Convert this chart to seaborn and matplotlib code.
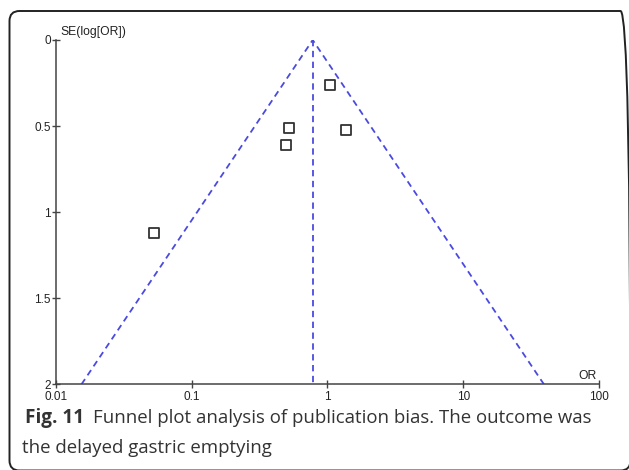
"""Funnel plot: publication bias, delayed gastric emptying."""
import numpy as np
import matplotlib
matplotlib.use("Agg")
import matplotlib.pyplot as plt
from matplotlib.patches import FancyBboxPatch
from matplotlib.transforms import IdentityTransform
import pandas as pd
import seaborn as sns

# study estimates
odds_ratio = [1.05, 0.52, 0.50, 1.38, 0.053]
se_log_or = [0.26, 0.51, 0.61, 0.52, 1.12]
pooled_or = 0.78
se_max = 2.0

x_ticks = [0.01, 0.1, 1, 10, 100]
x_tick_labels = ["0.01", "0.1", "1", "10", "100"]
y_ticks = [0, 0.5, 1, 1.5, 2]
y_tick_labels = ["0", "0.5", "1", "1.5", "2"]

df = pd.DataFrame({"OR": odds_ratio, "SE": se_log_or})

sns.set_theme(style="white")
plt.rcParams["font.family"] = ["Liberation Sans", "DejaVu Sans"]

fig = plt.figure(figsize=(6.29, 4.70), dpi=100)
ax = fig.add_axes([0.0886, 0.1823, 0.8637, 0.7326])

# funnel (95% pseudo confidence limits) and pooled estimate
lo = pooled_or * np.exp(-1.96 * se_max)
hi = pooled_or * np.exp(1.96 * se_max)
blue = "#4a4ae0"
ax.plot([lo, pooled_or, hi], [se_max, 0, se_max], color=blue, lw=1.3,
        ls=(0, (3.5, 2.5)))
ax.plot([pooled_or, pooled_or], [0, se_max], color=blue, lw=1.3,
        ls=(0, (3.5, 2.5)))

sns.scatterplot(data=df, x="OR", y="SE", marker="s", s=46,
                facecolor="white", edgecolor="#333333", linewidth=1.3,
                ax=ax, zorder=3)

ax.set_xscale("log")
ax.set_xlim(0.01, 100)
ax.set_ylim(2, 0)
ax.set_xticks(x_ticks)
ax.set_xticklabels(x_tick_labels)
ax.minorticks_off()
ax.set_yticks(y_ticks)
ax.set_yticklabels(y_tick_labels)
ax.set_xlabel("")
ax.set_ylabel("")

for side in ["top", "right"]:
    ax.spines[side].set_visible(False)
for side in ["left", "bottom"]:
    ax.spines[side].set_color("#444444")
    ax.spines[side].set_linewidth(1.1)
ax.tick_params(bottom=True, left=True, direction="inout", length=6,
               width=1.0, color="#444444", labelsize=8.5,
               labelcolor="#222222", pad=0)
ax.tick_params(axis="x", pad=1.5)
ax.tick_params(axis="y", pad=0.5)
ax.patch.set_alpha(0)

ax.text(0.008, 1.005, "SE(log[OR])", transform=ax.transAxes, fontsize=8.7,
        color="#222222", va="bottom", ha="left")
ax.text(0.995, 0.008, "OR", transform=ax.transAxes, fontsize=8.7,
        color="#222222", va="bottom", ha="right")

# caption
cap_font = ["Open Sans", "DejaVu Sans"]
fig.text(25 / 629, 1 - 423 / 470, "Fig. 11", fontsize=13.6, fontweight="bold",
         family=cap_font, color="#333333", va="baseline")
fig.text(93 / 629, 1 - 423 / 470,
         "Funnel plot analysis of publication bias. The outcome was",
         fontsize=13.4, family=cap_font, color="#333333", va="baseline")
fig.text(22 / 629, 1 - 453 / 470, "the delayed gastric emptying",
         fontsize=13.4, family=cap_font, color="#333333", va="baseline")

# rounded frame (pixel coordinates, origin bottom-left); right edge off-page
frame = FancyBboxPatch((9.5, -0.5), 621.0, 459.5,
                       boxstyle="round,pad=0,rounding_size=10",
                       transform=IdentityTransform(), fill=False,
                       edgecolor="#222222", lw=1.4, clip_on=False)
fig.patches.append(frame)

fig.savefig("out.png", dpi=100)
plt.close(fig)
